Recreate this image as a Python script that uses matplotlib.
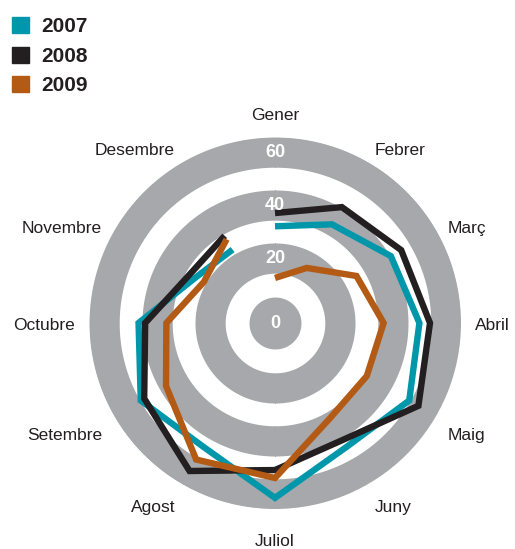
import matplotlib.pyplot as plt
import numpy as np

MONTHS = ['Gener', 'Febrer', 'Març', 'Abril', 'Maig', 'Juny',
          'Juliol', 'Agost', 'Setembre', 'Octubre', 'Novembre', 'Desembre']
YEARS = ['2007', '2008', '2009']
VALUES_2007 = [32, 38.5, 46, 50, 54, 49.5, 61.5, 49.5, 54, 47, 30, 27.5]
VALUES_2008 = [37, 46, 50.5, 54, 58, 46.5, 51, 60, 52.5, 44.5, 32.5, 33.5]
VALUES_2009 = [12.5, 19.5, 31, 36.5, 35.5, 37, 54, 55, 43, 36.5, 26.5, 32]
RING_TICKS = [0, 20, 40, 60]

COLORS = ['#0097AB', '#231F20', '#B35A14']
GRAY = '#A7A8AB'
TEXT = '#231F20'
FONT = 'Liberation Sans'

R_MIN, R_MAX = -4.5, 65.7
BAND = 5.7
LABEL_R = 70.9
# vertical nudge of month labels, pixels downward
LABEL_SHIFT = [-7.5, 1, 5.5, 2, 13, 11, 19, 11, 13, 2, 5.5, 1]


def draw_rings(ax):
    theta = np.linspace(0, 2 * np.pi, 400)
    for v in RING_TICKS:
        lo = v - BAND if v > 0 else R_MIN
        hi = v + BAND if v > 0 else 5.3
        ax.fill_between(theta, lo, min(hi, R_MAX), color=GRAY, lw=0, zorder=1)
    for v in RING_TICKS:
        r = v if v > 0 else R_MIN
        ax.text(0, r, str(v), color='white', fontsize=13, fontweight='bold',
                family=FONT, ha='center', va='center', zorder=5)


def draw_series(ax, angles):
    for values, color, z in zip([VALUES_2007, VALUES_2008, VALUES_2009], COLORS, [3, 4, 4.5]):
        ax.plot(angles, values, color=color, lw=4.6, solid_joinstyle='miter',
                solid_capstyle='butt', zorder=z)


def draw_labels(ax, angles):
    for a, name, shift in zip(angles, MONTHS, LABEL_SHIFT):
        s = np.sin(a)
        ha = 'left' if s > 0.1 else ('right' if s < -0.1 else 'center')
        ax.annotate(name, xy=(a, LABEL_R), xytext=(0, -shift * 0.72),
                    textcoords='offset points', color=TEXT, fontsize=12.5,
                    family=FONT, ha=ha, va='center', annotation_clip=False)


def draw_legend(fig):
    for i, (year, color) in enumerate(zip(YEARS, COLORS)):
        y = 549 - 25 - i * 29.5
        fig.patches.append(plt.Rectangle((12 / 515, (y - 8) / 549), 17 / 515, 16 / 549,
                                         transform=fig.transFigure, color=color))
        fig.text(41 / 515, (y - 1.5) / 549, year, fontsize=15, fontweight='bold',
                 family=FONT, color=TEXT, ha='left', va='center')


if __name__ == '__main__':
    fig = plt.figure(figsize=(5.15, 5.49), dpi=100)
    ax = fig.add_axes([89 / 515, 40 / 549, 372 / 515, 372 / 549], projection='polar')
    ax.set_theta_zero_location('N')
    ax.set_theta_direction(-1)
    ax.set_ylim(R_MIN, R_MAX)
    ax.grid(False)
    ax.spines['polar'].set_visible(False)
    ax.set_xticks([])
    ax.set_yticks([])

    angles = np.arange(len(MONTHS)) * 2 * np.pi / len(MONTHS)
    draw_rings(ax)
    draw_series(ax, angles)
    draw_labels(ax, angles)
    draw_legend(fig)

    fig.savefig('out.png', dpi=100)
